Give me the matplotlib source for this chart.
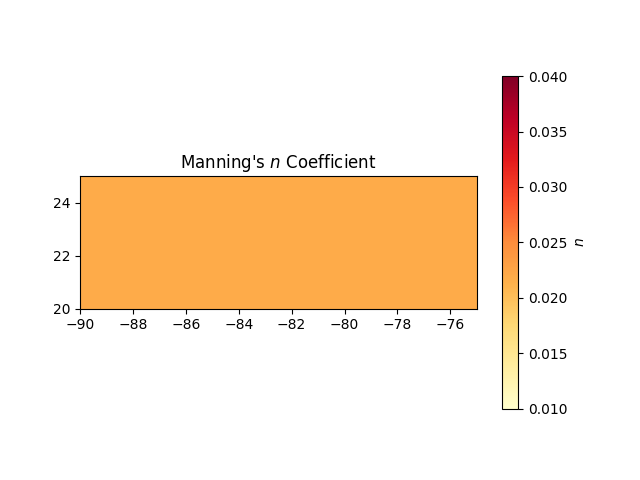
import numpy as np
import matplotlib
matplotlib.use('Agg')
import matplotlib.pyplot as plt

# grid of Manning's n values
lon = np.array([-90.0, -87.0, -84.0, -81.0, -78.0, -75.0])
lat = np.array([20.0, 21.25, 22.5, 23.75, 25.0])
n_value = 0.022
mannings_n = np.full((len(lat) - 1, len(lon) - 1), n_value)

fig, ax = plt.subplots(figsize=(6.4, 4.8), dpi=100)
mesh = ax.pcolormesh(lon, lat, mannings_n, cmap='YlOrRd', vmin=0.01, vmax=0.04)
ax.set_aspect('equal')
ax.set_title("Manning's $n$ Coefficient")
cbar = fig.colorbar(mesh, ax=ax, shrink=0.9)
cbar.set_label('$n$')

fig.savefig('out.png')
